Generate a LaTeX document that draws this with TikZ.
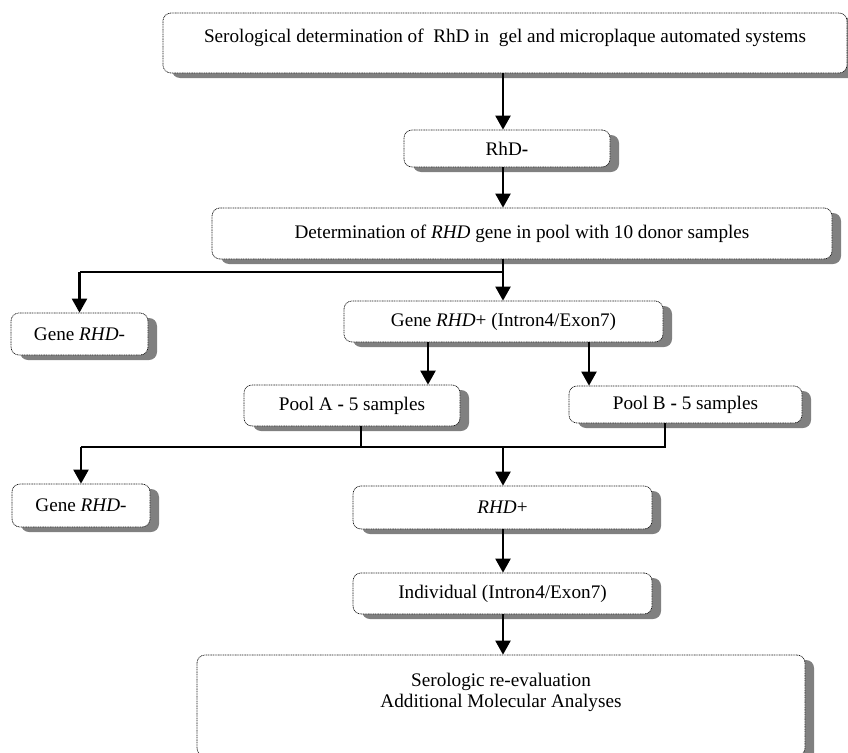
\documentclass[tikz,border=0pt]{standalone}
\usepackage{fontspec}
\setmainfont{Liberation Serif}
\usetikzlibrary{arrows.meta,shadows}

\begin{document}
\begin{tikzpicture}[x=1pt, y=-1pt, >={Triangle[length=14pt,width=15pt]}]
\tikzstyle{every node}=[font=\fontsize{19.2}{21}\selectfont];
\tikzstyle{stagebox}=[draw=black!90, line width=0.7pt, dash pattern=on 1pt off 0.7pt, rounded corners=8pt, fill=white, inner sep=0pt,
  drop shadow={shadow xshift=9pt, shadow yshift=-5pt, fill=black!50, opacity=1}];
\tikzstyle{link}=[line width=2.2pt];
\tikzstyle{branch}=[line width=1.7pt];
\useasboundingbox (0,0) rectangle (848,752);
% stages
\node[stagebox, minimum width=684pt, minimum height=60pt] (sero) at (505,43)
  {\raisebox{0pt}[0pt][0pt]{Serological determination of~ RhD in~ gel and microplaque automated systems}};
\node[stagebox, minimum width=206pt, minimum height=37pt] (rhdneg) at (507,148.5) {RhD\textbf{-}};
\node[stagebox, minimum width=620pt, minimum height=51pt] (det) at (522,233.5)
  {Determination of \textit{RHD} gene in pool with 10 donor samples};
\node[stagebox, minimum width=137pt, minimum height=42pt] (geneneg) at (79.5,334) {Gene \textit{RHD-}};
\node[stagebox, minimum width=319pt, minimum height=41pt] (genepos) at (503.5,321.5) {Gene \textit{RHD}+ (Intron4/Exon7)};
\node[stagebox, minimum width=216pt, minimum height=41pt] (poolA) at (352,405.5) {Pool A \textbf{-} 5 samples};
\node[stagebox, minimum width=233pt, minimum height=37pt] (poolB) at (685.5,404.5) {Pool B \textbf{-} 5 samples};
\node[stagebox, minimum width=138pt, minimum height=43pt] (genenegb) at (81,505.5) {Gene \textit{RHD-}};
\node[stagebox, minimum width=299pt, minimum height=43pt] (rhdpos) at (502.5,507.5) {\textit{RHD}+};
\node[stagebox, minimum width=299pt, minimum height=41pt] (indiv) at (502.5,593.5) {Individual (Intron4/Exon7)};
\node[stagebox, minimum width=608pt, minimum height=101pt] (final) at (501,705.5)
  {\raisebox{8pt}[0pt][0pt]{\begin{tabular}{c}Serologic re-evaluation\\Additional Molecular Analyses\end{tabular}}};
% connectors
\coordinate (axis) at (503,0);
\coordinate (forka) at (503,272);
\coordinate (forkb) at (503,447);
\coordinate (tapa) at (428,0);
\coordinate (tapb) at (589,0);
\draw[link,->] (sero.south -| axis) -- (rhdneg.north -| axis);
\draw[link,->] (rhdneg.south -| axis) -- (det.north -| axis);
\draw[link,->] (det.south -| axis) -- (genepos.north -| axis);
\draw[branch] (forka) -- (forka -| geneneg);
\draw[link,->] (forka -| geneneg) -- (geneneg.north);
\draw[link,->] (genepos.south -| tapa) -- (poolA.north -| tapa);
\draw[link,->] (genepos.south -| tapb) -- (poolB.north -| tapb);
\draw[branch] ([xshift=9pt]poolA.south) -- ([xshift=9pt]poolA.south |- forkb);
\draw[branch] ([xshift=-20.5pt]poolB.south) |- (forkb -| genenegb);
\draw[link,->] (forkb -| genenegb) -- (genenegb.north);
\draw[link,->] (forkb) -- (rhdpos.north -| axis);
\draw[link,->] (rhdpos.south -| axis) -- (indiv.north -| axis);
\draw[link,->] (indiv.south -| axis) -- (final.north -| axis);
\end{tikzpicture}
\end{document}
